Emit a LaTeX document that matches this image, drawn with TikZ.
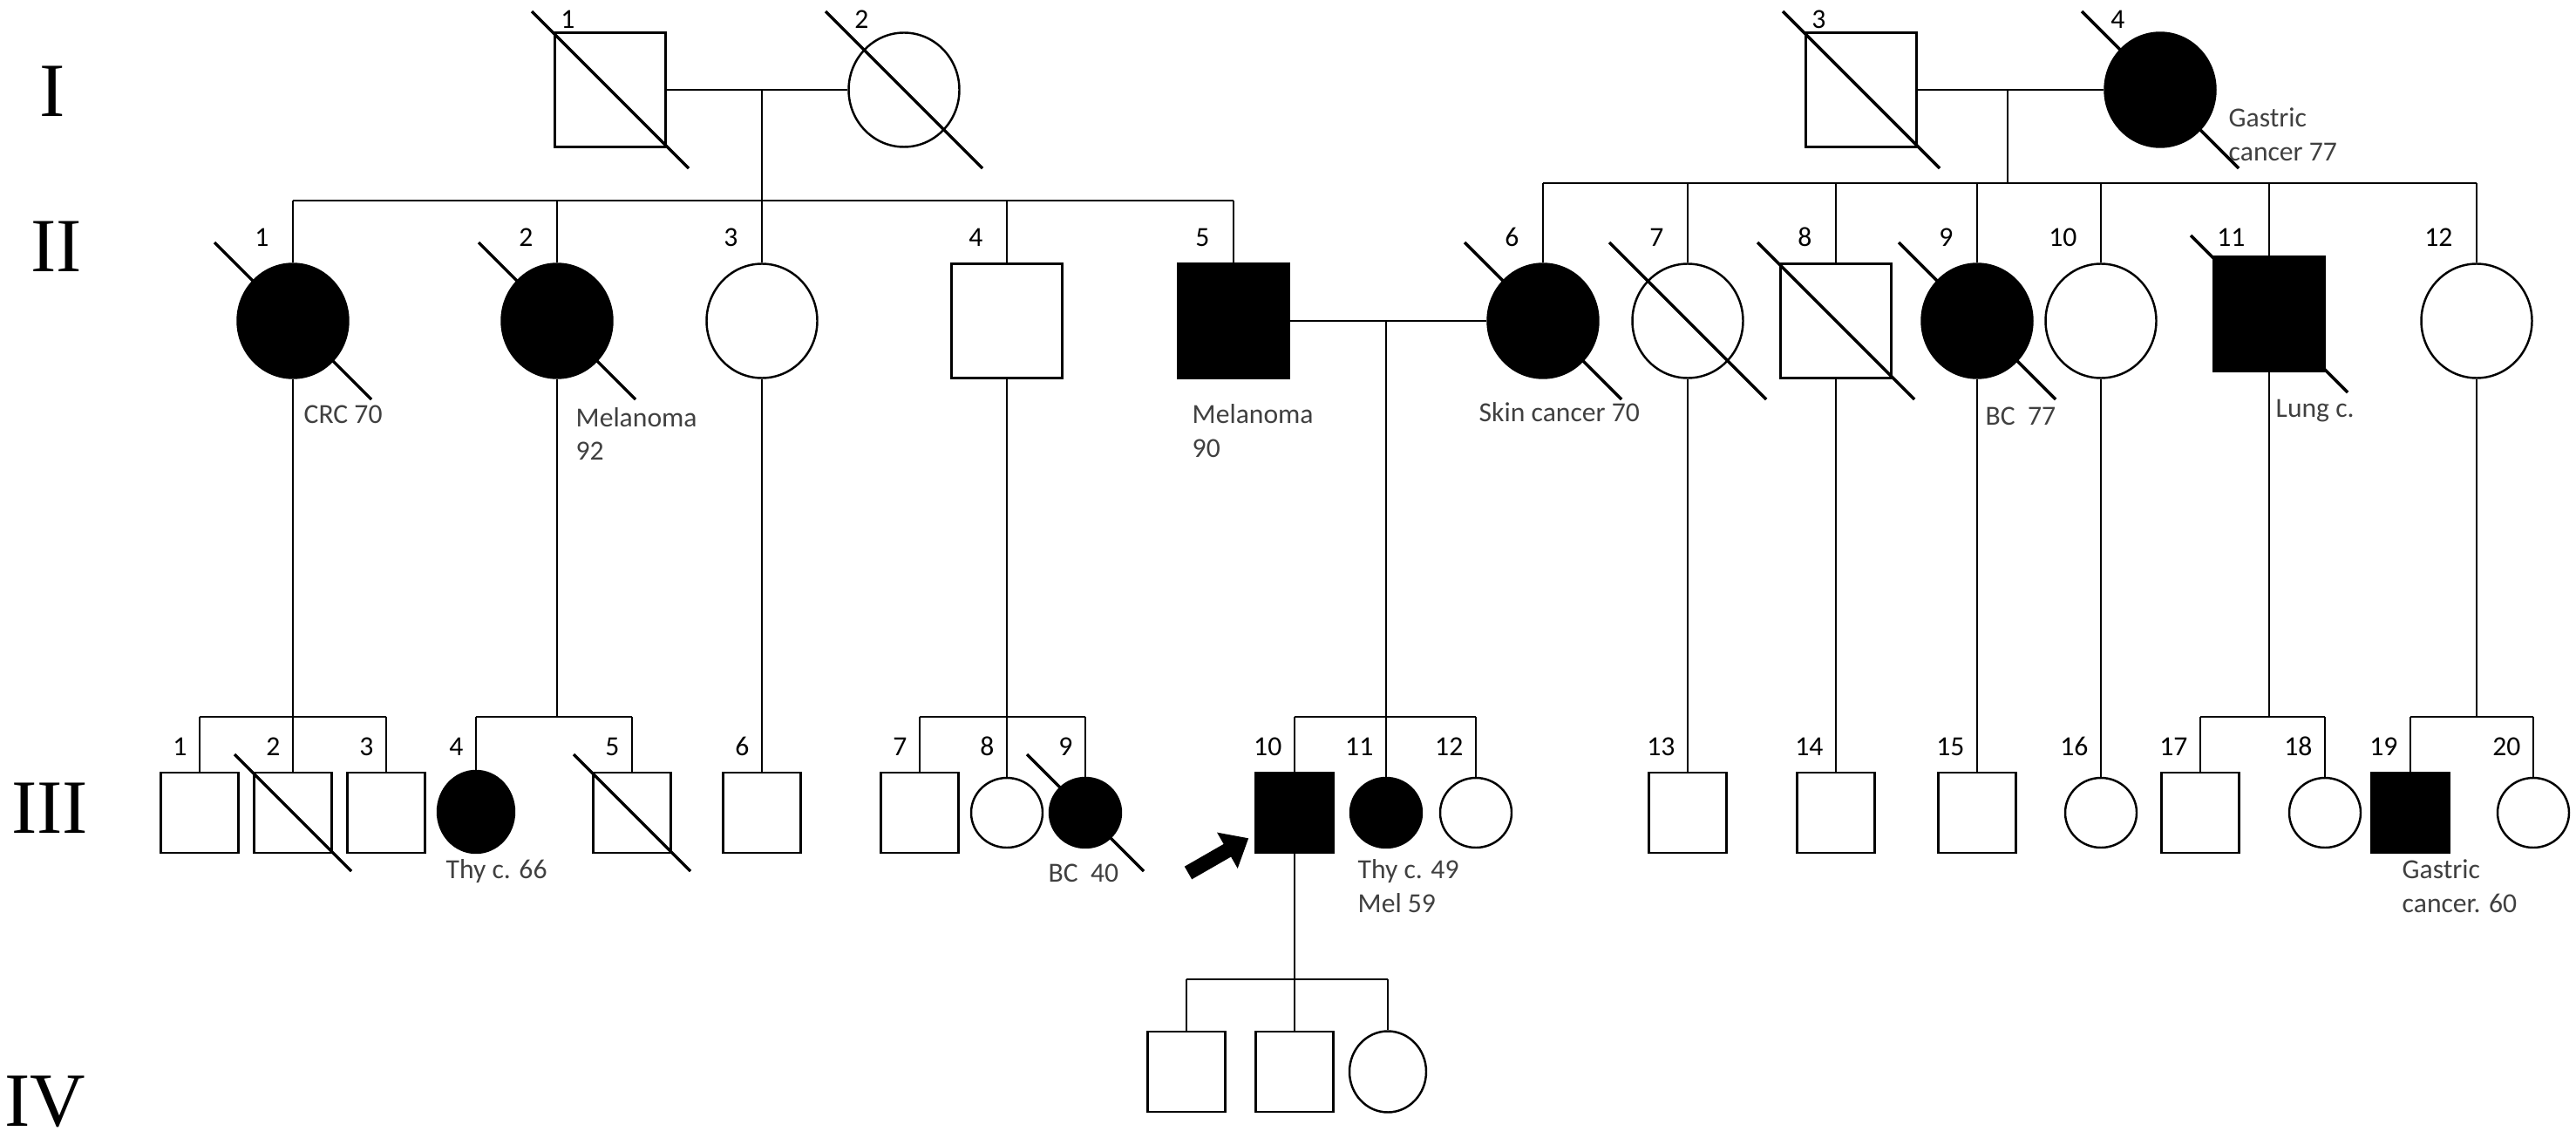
\documentclass[tikz,border=0pt]{standalone}
\usepackage{fontspec}
\setmainfont{Carlito}
\newfontfamily\genfont{Liberation Serif}
\usetikzlibrary{shapes.geometric,arrows.meta}

\tikzset{
  person/.style={draw, line width=0.7pt, inner sep=0pt, fill=white},
  male/.style={person, rectangle, minimum width=1.27cm, minimum height=1.31cm},
  female/.style={person, ellipse, minimum width=1.27cm, minimum height=1.31cm},
  smale/.style={person, rectangle, minimum width=0.89cm, minimum height=0.92cm},
  sfemale/.style={person, ellipse, minimum width=0.82cm, minimum height=0.80cm},
  aff/.style={fill=black},
  link/.style={line width=0.6pt},
  slash/.style={line width=1pt},
  num/.style={anchor=south east, inner sep=0pt, font=\fontsize{9}{11}\selectfont},
  note/.style={anchor=west, align=left, inner sep=0pt, text=black!75, font=\fontsize{9}{11}\selectfont},
  gen/.style={font=\genfont\fontsize{25}{30}\selectfont},
  proband/.style={line width=4.8pt, -{Triangle[length=8pt,width=13pt]}}
}

\begin{document}
\begin{tikzpicture}
    \useasboundingbox (0,0) rectangle (29.55,-13.05);
    % generation labels
    \node[gen] (gI) at (0.60,-1.05) {I};
    \node[gen] (gII) at (0.65,-2.83) {II};
    \node[gen] (gIII) at (0.57,-9.27) {III};
    \node[gen] (gIV) at (0.52,-12.63) {IV};
    % rows for numbers and sibship lines
    \coordinate (rowI) at (0,-0.33);
    \coordinate (rowII) at (0,-2.83);
    \coordinate (rowIII) at (0,-8.67);
    \coordinate (sibA) at (0,-2.30);
    \coordinate (sibB) at (0,-2.10);
    \coordinate (sib3) at (0,-8.22);
    \coordinate (sib4) at (0,-11.23);
    % generation I
    \node[male] (I1) at (7.00,-1.03) {};
    \node[female] (I2) at (10.37,-1.03) {};
    \node[male] (I3) at (21.35,-1.03) {};
    \node[female, aff] (I4) at (24.78,-1.03) {};
    % generation II
    \node[female, aff] (II1) at (3.36,-3.68) {};
    \node[female, aff] (II2) at (6.39,-3.68) {};
    \node[female] (II3) at (8.74,-3.68) {};
    \node[male] (II4) at (11.55,-3.68) {};
    \node[male, aff] (II5) at (14.15,-3.68) {};
    \node[female, aff] (II6) at (17.70,-3.68) {};
    \node[female] (II7) at (19.36,-3.68) {};
    \node[male] (II8) at (21.06,-3.68) {};
    \node[female, aff] (II9) at (22.68,-3.68) {};
    \node[female] (II10) at (24.10,-3.68) {};
    \node[male, aff] (II11) at (26.03,-3.60) {};
    \node[female] (II12) at (28.41,-3.68) {};
    % generation III
    \node[smale] (III1) at (2.29,-9.32) {};
    \node[smale] (III2) at (3.36,-9.32) {};
    \node[smale] (III3) at (4.43,-9.32) {};
    \node[sfemale, aff, minimum width=0.88cm, minimum height=0.94cm] (III4) at (5.46,-9.31) {};
    \node[smale] (III5) at (7.25,-9.32) {};
    \node[smale] (III6) at (8.74,-9.32) {};
    \node[smale] (III7) at (10.55,-9.32) {};
    \node[sfemale] (III8) at (11.55,-9.32) {};
    \node[sfemale, aff] (III9) at (12.45,-9.32) {};
    \node[smale, aff] (III10) at (14.85,-9.32) {};
    \node[sfemale, aff] (III11) at (15.90,-9.32) {};
    \node[sfemale] (III12) at (16.93,-9.32) {};
    \node[smale] (III13) at (19.36,-9.32) {};
    \node[smale] (III14) at (21.06,-9.32) {};
    \node[smale] (III15) at (22.68,-9.32) {};
    \node[sfemale] (III16) at (24.10,-9.32) {};
    \node[smale] (III17) at (25.24,-9.32) {};
    \node[sfemale] (III18) at (26.67,-9.32) {};
    \node[smale, aff] (III19) at (27.65,-9.32) {};
    \node[sfemale] (III20) at (29.06,-9.32) {};
    % generation IV
    \node[smale] (IV1) at (13.61,-12.29) {};
    \node[smale] (IV2) at (14.85,-12.29) {};
    \node[sfemale, minimum width=0.88cm, minimum height=0.93cm] (IV3) at (15.92,-12.29) {};
    % marriages and sibships
    \draw[link] (I1) -- (I2);
    \draw[link] (I3) -- (I4);
    \draw[link] (II5) -- (II6);
    \draw[link] (II3.north) -- (II3.north |- I1.east);
    \draw[link] (II1.north |- sibA) -- (II5.north |- sibA);
    \foreach \p in {II1,II2,II4,II5}
        \draw[link] (\p.north) -- (\p.north |- sibA);
    \coordinate (m34) at (23.03,-1.03);
    \draw[link] (m34) -- (m34 |- sibB);
    \draw[link] (II6.north |- sibB) -- (II12.north |- sibB);
    \foreach \p in {II6,II7,II8,II9,II10,II11,II12}
        \draw[link] (\p.north) -- (\p.north |- sibB);
    \draw[link] (II1.south) -- (III2.north);
    \draw[link] (II2.south) -- (II2.south |- sib3);
    \draw[link] (II4.south) -- (III8.north);
    \draw[link] (III11.north) -- (III11.north |- II5.east);
    \draw[link] (II11.south) -- (II11.south |- sib3);
    \draw[link] (II12.south) -- (II12.south |- sib3);
    \foreach \a/\b in {II3/III6,II7/III13,II8/III14,II9/III15,II10/III16}
        \draw[link] (\a.south) -- (\b.north);
    \foreach \a/\b in {III1/III3,III4/III5,III7/III9,III10/III12,III17/III18,III19/III20}
        \draw[link] (\a.north |- sib3) -- (\b.north |- sib3);
    \foreach \p in {III1,III3,III4,III5,III7,III9,III10,III12,III17,III18,III19,III20}
        \draw[link] (\p.north) -- (\p.north |- sib3);
    \draw[link] (III10.south) -- (IV2.north);
    \draw[link] (IV1.north |- sib4) -- (IV3.north |- sib4);
    \foreach \p in {IV1,IV3}
        \draw[link] (\p.north) -- (\p.north |- sib4);
    % deceased
    \foreach \p in {I1,I2,I3,I4,II1,II2,II6,II7,II8,II9,II11}
        \draw[slash] ([shift={(-0.9,0.9)}]\p.center) -- ([shift={(0.9,-0.9)}]\p.center);
    \foreach \p in {III2,III5,III9}
        \draw[slash] ([shift={(-0.67,0.67)}]\p.center) -- ([shift={(0.67,-0.67)}]\p.center);
    % numbers
    \foreach \t in {1,...,4}
        \node[num, xshift=-0.40cm] (nI\t) at (I\t.center |- rowI) {\t};
    \foreach \t in {1,...,12}
        \node[num, xshift=-0.27cm] (nII\t) at (II\t.center |- rowII) {\t};
    \foreach \t in {1,...,20}
        \node[num, xshift=-0.14cm] (nIII\t) at (III\t.center |- rowIII) {\t};
    % diagnoses
    \node[note] (dI4) at (25.56,-1.54) {Gastric\\cancer 77};
    \node[note] (dII1) at (3.48,-4.75) {CRC 70};
    \node[note] (dII2) at (6.60,-4.975) {Melanoma\\92};
    \node[note] (dII5) at (13.67,-4.94) {Melanoma\\90};
    \node[note] (dII6) at (16.96,-4.73) {Skin cancer 70};
    \node[note] (dII9) at (22.77,-4.77) {BC\ \ 77};
    \node[note] (dII11) at (26.10,-4.71) {Lung c.};
    \node[note] (dIII4) at (5.11,-9.99) {Thy c. 66};
    \node[note] (dIII9) at (12.02,-10.01) {BC\ \ 40};
    \node[note] (dIII11) at (15.57,-10.16) {Thy c. 49\\Mel 59};
    \node[note] (dIII19) at (27.55,-10.16) {Gastric\\cancer. 60};
    % proband
    \coordinate (pb) at (13.63,-10.01);
    \draw[proband] (pb) -- ([shift={(-0.07,0.18)}]III10.south west);
\end{tikzpicture}
\end{document}
